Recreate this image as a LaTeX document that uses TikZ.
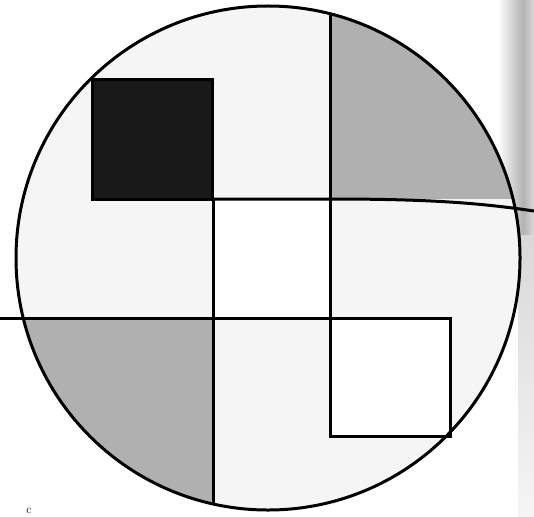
\documentclass[tikz,border=0pt]{standalone}
\begin{document}
\begin{tikzpicture}[x=1pt,y=-1pt,
  outline/.style={line width=3pt, line join=miter},
  lightfill/.style={fill=gray!8},
  darkfill/.style={fill=gray!62},
  blackfill/.style={fill=black!90}]
\useasboundingbox (0,0) rectangle (534,516);
\coordinate (C) at (268,258);
% scan edge shading at the right
\shade[left color=white, right color=gray!60] (498,0) rectangle (523,235);
\shade[left color=gray!60, right color=gray!30] (523,0) rectangle (534,235);
\shade[top color=gray!30, bottom color=gray!8] (518,235) rectangle (534,516);
% regions inside the circle
\begin{scope}
  \clip (C) circle (252pt);
  \path[lightfill] (0,0) rectangle (534,516);
  \fill[white] (213,199) rectangle (330,318);
  \fill[white] (330,318) rectangle (450,436);
  \path[darkfill] (330,0) rectangle (534,199);
  \path[darkfill] (0,318) rectangle (213,516);
\end{scope}
\path[blackfill] (92,80) rectangle (212,199);
% lines
\coordinate (vtop) at (330,14);
\coordinate (vbot) at (213,504);
\coordinate (hl) at (0,318);
\coordinate (hr) at (534,211);
\draw[outline] (C) circle (252pt);
\draw[outline] (92,80) rectangle (212,199);
\draw[outline] (hl) -- (450,318) -- (450,436) -- (330,436) -- (vtop);
\draw[outline] (213,199) -- (vbot);
\draw[outline] (212,199) -- (330,199) .. controls (430,199) and (480,203) .. (hr);
% small letter at the bottom left
\node[inner sep=0pt, anchor=south, font=\large] (c) at (29,514) {c};
\end{tikzpicture}
\end{document}
